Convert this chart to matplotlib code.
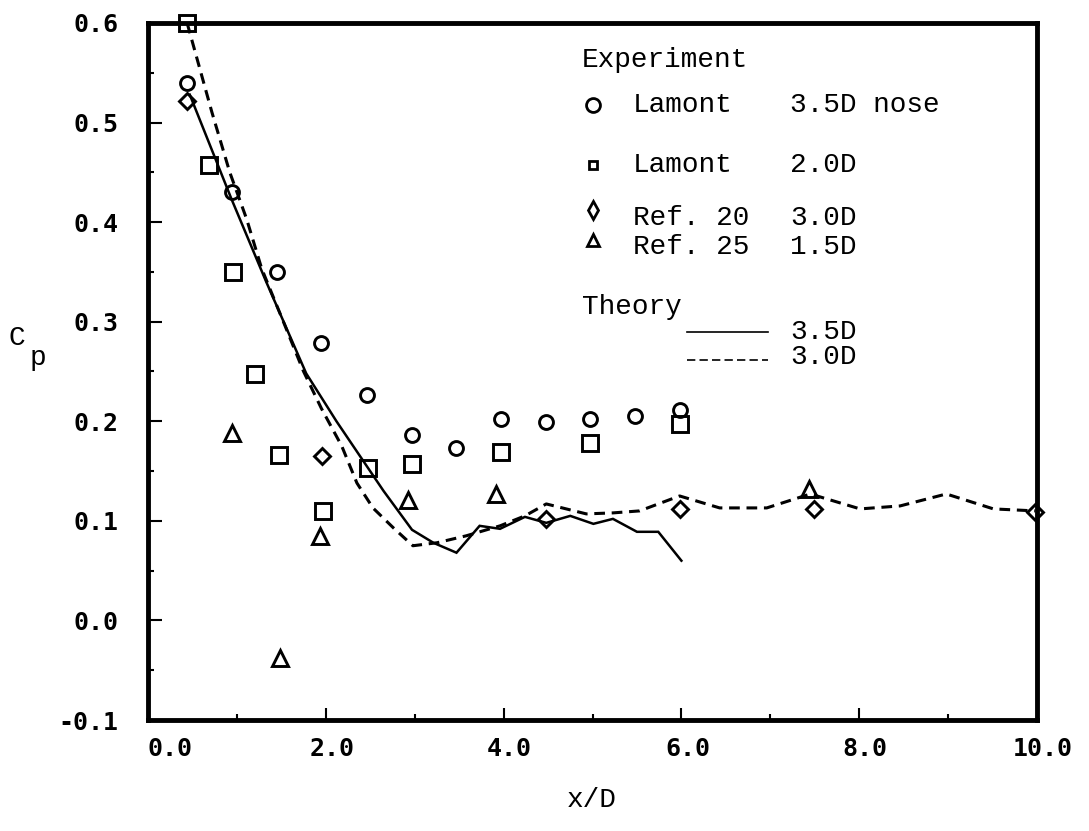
import numpy as np
import matplotlib
matplotlib.use("Agg")
import matplotlib.pyplot as plt
from matplotlib.transforms import ScaledTranslation

# Lamont 3.5D nose (circles)
circ_x = [0.44, 0.94, 1.45, 1.95, 2.46, 2.97, 3.47, 3.97, 4.48, 4.97, 5.48, 5.98]
circ_y = [0.540, 0.430, 0.350, 0.279, 0.226, 0.186, 0.173, 0.202, 0.199, 0.202, 0.205, 0.211]
# Lamont 2.0D (squares)
sq_x = [0.44, 0.69, 0.96, 1.20, 1.47, 1.97, 2.47, 2.97, 3.97, 4.97, 5.98]
sq_y = [0.600, 0.457, 0.350, 0.247, 0.166, 0.110, 0.153, 0.157, 0.169, 0.178, 0.197]
# Ref. 20 3.0D (diamonds)
dia_x = [0.44, 1.96, 4.48, 5.98, 7.49, 9.98]
dia_y = [0.522, 0.165, 0.102, 0.112, 0.112, 0.109]
# Ref. 25 1.5D (triangles)
tri_x = [0.95, 1.49, 1.93, 2.93, 3.92, 7.43]
tri_y = [0.188, -0.038, 0.085, 0.121, 0.127, 0.132]

# Theory 3.5D (solid)
th35_x = [0.47, 0.94, 1.33, 1.78, 2.12, 2.40, 2.65, 2.97, 3.21, 3.47, 3.73, 3.96,
          4.24, 4.48, 4.75, 5.01, 5.23, 5.50, 5.74, 6.00]
th35_y = [0.528, 0.423, 0.340, 0.248, 0.200, 0.163, 0.130, 0.091, 0.078, 0.068, 0.095, 0.092,
          0.104, 0.098, 0.105, 0.097, 0.102, 0.089, 0.089, 0.060]
# Theory 3.0D (dashed)
th30_x = [0.44, 0.72, 0.92, 1.11, 1.28, 1.50, 1.75, 1.95, 2.18, 2.35, 2.53, 2.76, 2.98,
          3.25, 3.58, 3.96, 4.24, 4.48, 4.93, 5.23, 5.53, 5.98, 6.43, 6.96, 7.45,
          8.01, 8.46, 8.98, 9.51, 9.98]
th30_y = [0.600, 0.510, 0.450, 0.403, 0.353, 0.305, 0.250, 0.213, 0.175, 0.138, 0.113, 0.093, 0.075,
          0.078, 0.085, 0.095, 0.105, 0.117, 0.107, 0.108, 0.110, 0.125, 0.113, 0.113, 0.127,
          0.112, 0.115, 0.127, 0.112, 0.110]

x_ticks = [0, 2, 4, 6, 8, 10]
x_ticklabels = ['0.0', '2.0', '4.0', '6.0', '8.0', '10.0']
y_ticks = [-0.1, 0.0, 0.1, 0.2, 0.3, 0.4, 0.5, 0.6]
y_ticklabels = ['-0.1', '0.0', '0.1', '0.2', '0.3', '0.4', '0.5', '0.6']

mono = 'Liberation Mono'
tickfont = dict(family='DejaVu Sans Mono', weight='bold', size=18)

fig = plt.figure(figsize=(10.89, 8.31), dpi=100)
ax = fig.add_axes([148/1089, 1 - 720/831, 889/1089, 697/831])

ax.plot(th35_x, th35_y, color='black', lw=1.8, solid_joinstyle='miter')
ax.plot(th30_x, th30_y, color='black', lw=2.2, linestyle=(0, (3.5, 2.2)))

mk = dict(linestyle='none', color='black', mfc='none', mew=2.1, clip_on=False, zorder=5)
ax.plot(circ_x, circ_y, marker='o', ms=10, **mk)
ax.plot(sq_x, sq_y, marker='s', ms=11, **mk)
ax.plot(dia_x, dia_y, marker='D', ms=8, **mk)
ax.plot(tri_x, tri_y, marker='^', ms=11, **mk)

ax.set_xlim(0, 10)
ax.set_ylim(-0.1, 0.6)
ax.set_xticks(x_ticks)
ax.set_xticklabels(x_ticklabels, fontdict=tickfont)
ax.set_xticks([1, 3, 5, 7, 9], minor=True)
ax.set_yticks(y_ticks)
ax.set_yticklabels(y_ticklabels, fontdict=tickfont)
ax.set_yticks(np.arange(-0.05, 0.6, 0.1), minor=True)
ax.tick_params(axis='x', which='major', direction='in', length=9, width=1.5, pad=12)
ax.tick_params(axis='x', which='minor', direction='in', length=4, width=1.5)
ax.tick_params(axis='y', which='major', direction='in', length=10, width=1.5, pad=21)
ax.tick_params(axis='y', which='minor', direction='in', length=4, width=1.5)
for s in ax.spines.values():
    s.set_linewidth(3.5)

# tick labels in the original sit a little right of their ticks
for i, lbl in enumerate(ax.get_xticklabels()):
    dx = 22 if i == 0 else 6
    lbl.set_transform(lbl.get_transform() + ScaledTranslation(dx/100, 0, fig.dpi_scale_trans))

# axis labels
fig.text(0.5436, 1 - 800/831, 'x/D', family=mono, size=20, ha='center', va='center')
fig.text(17/1089, 1 - 338/831, 'C', family=mono, size=20, ha='center', va='center')
fig.text(38/1089, 1 - 358/831, 'p', family=mono, size=20, ha='center', va='center')

# hand-made legend
T = ax.transAxes
def ax_xy(px, py):
    return (px - 148) / 889, (720 - py) / 697

def put_text(px, py, s):
    x, y = ax_xy(px, py)
    ax.text(x, y, s, transform=T, family=mono, size=20, ha='left', va='center')

put_text(582, 60, 'Experiment')
leg_rows = [('o', 10, 105, 105, 'Lamont', '3.5D nose'),
            ('s', 6, 165, 165, 'Lamont', '2.0D'),
            ('d', 9, 210, 218, 'Ref. 20', '3.0D'),
            ('^', 8, 240, 247, 'Ref. 25', '1.5D')]
for m, ms, my, ty, name, size in leg_rows:
    x, y = ax_xy(593, my)
    ax.plot([x], [y], transform=T, marker=m, ms=ms, color='black', mfc='none', mew=2.0,
            linestyle='none')
    put_text(633, ty, name)
    put_text(790, ty, size)

put_text(582, 307, 'Theory')
x0, y0 = ax_xy(687, 332)
x1, _ = ax_xy(768, 332)
ax.plot([x0, x1], [y0, y0], transform=T, color='black', lw=1.2)
put_text(790, 332, '3.5D')
x0, y0 = ax_xy(687, 360)
ax.plot([x0, x1], [y0, y0], transform=T, color='black', lw=1.2, linestyle=(0, (5, 2.5)))
put_text(790, 357, '3.0D')

fig.savefig('out.png', dpi=100)
